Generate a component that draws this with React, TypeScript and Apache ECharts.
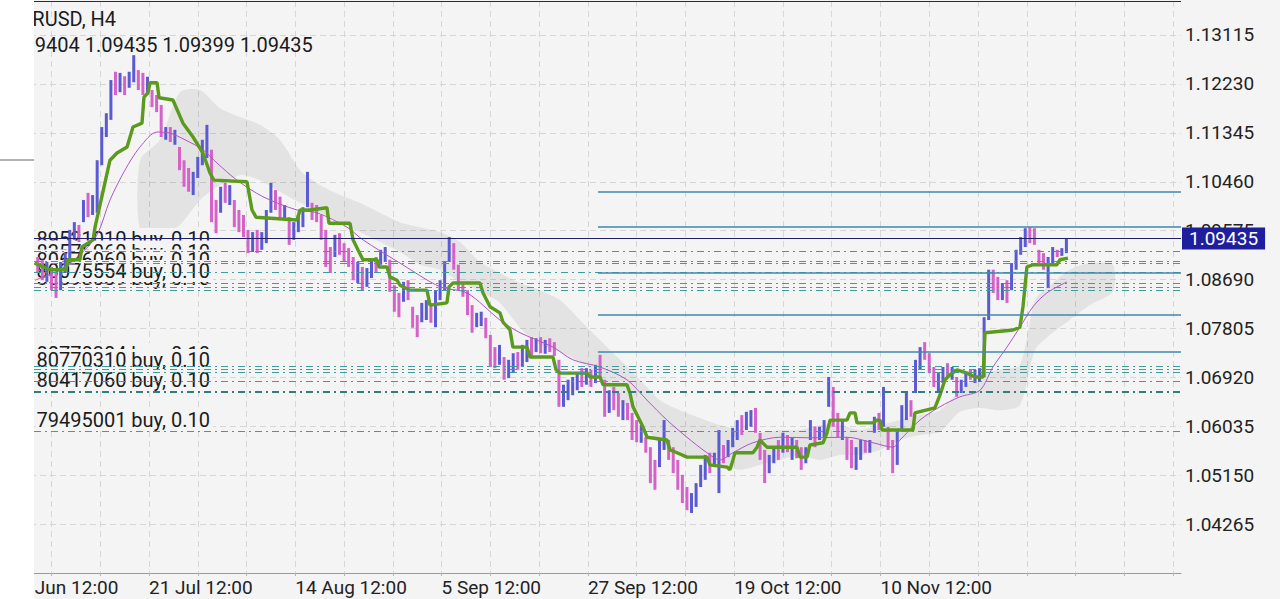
import React, { useEffect, useRef } from 'react';
import * as echarts from 'echarts';

const symbolTitle = 'EURUSD, H4';
const ohlcText = '1.09404 1.09435 1.09399 1.09435';
const currentPrice = 1.09435;

const yTickValues = [1.04265, 1.0515, 1.06035, 1.0692, 1.07805, 1.0869, 1.09575, 1.1046, 1.11345, 1.1223, 1.13115];
const xLabelValues = [4, 96, 192, 288, 384, 480, 576];
const xLabelTexts = ['29 Jun 12:00', '21 Jul 12:00', '14 Aug 12:00', '5 Sep 12:00', '27 Sep 12:00', '19 Oct 12:00', '10 Nov 12:00'];
const xGridValues = [0, 32, 64, 96, 128, 160, 192, 224, 256, 288, 320, 352, 384, 416, 448, 480, 512, 544, 576, 608, 640, 672, 704, 736, 768];

// candles sampled every 3 H4 bars, first at bar 23
const firstBar = 23;
const barStep = 3;
const highs = [
  1.0910, 1.0905, 1.0901, 1.0892, 1.0883, 1.0901, 1.0917, 1.0959, 1.0973, 1.0968,
  1.1013, 1.1026, 1.1022, 1.1085, 1.1145, 1.1170, 1.1230, 1.1245, 1.1243, 1.1237,
  1.1245, 1.1275, 1.1248, 1.1243, 1.1236, 1.1212, 1.1203, 1.1185, 1.1145, 1.1145,
  1.1140, 1.1109, 1.1085, 1.1071, 1.1064, 1.1091, 1.1122, 1.1149, 1.1104, 1.1013,
  1.1037, 1.1044, 1.1040, 1.1013, 1.0995, 1.0986, 1.0959, 1.0955, 1.0959, 1.0955,
  1.0995, 1.1044, 1.1031, 1.1019, 1.1004, 1.0982, 1.0973, 1.0986, 1.1000, 1.1064,
  1.1008, 1.1004, 1.0986, 1.0959, 1.0928, 1.0950, 1.0953, 1.0935, 1.0926, 1.0910,
  1.0901, 1.0892, 1.0890, 1.0908, 1.0910, 1.0923, 1.0928, 1.0905, 1.0859, 1.0845,
  1.0865, 1.0868, 1.0820, 1.0805, 1.0827, 1.0832, 1.0823, 1.0850, 1.0868, 1.0901,
  1.0946, 1.0935, 1.0896, 1.0863, 1.0850, 1.0823, 1.0809, 1.0811, 1.0800, 1.0769,
  1.0747, 1.0751, 1.0729, 1.0724, 1.0736, 1.0738, 1.0751, 1.0760, 1.0765, 1.0763,
  1.0765, 1.0760, 1.0763, 1.0756, 1.0724, 1.0679, 1.0688, 1.0693, 1.0702, 1.0709,
  1.0709, 1.0706, 1.0715, 1.0733, 1.0688, 1.0669, 1.0675, 1.0664, 1.0651, 1.0646,
  1.0628, 1.0615, 1.0606, 1.0584, 1.0566, 1.0543, 1.0579, 1.0615, 1.0579, 1.0566,
  1.0543, 1.0516, 1.0494, 1.0483, 1.0501, 1.0534, 1.0552, 1.0556, 1.0556, 1.0597,
  1.0570, 1.0579, 1.0601, 1.0615, 1.0624, 1.0630, 1.0633, 1.0637, 1.0592, 1.0561,
  1.0552, 1.0566, 1.0579, 1.0592, 1.0588, 1.0584, 1.0579, 1.0566, 1.0566, 1.0615,
  1.0603, 1.0603, 1.0615, 1.0693, 1.0675, 1.0628, 1.0615, 1.0584, 1.0579, 1.0566,
  1.0579, 1.0579, 1.0579, 1.0621, 1.0628, 1.0675, 1.0603, 1.0579, 1.0597, 1.0642,
  1.0666, 1.0651, 1.0724, 1.0747, 1.0756, 1.0736, 1.0711, 1.0700, 1.0711, 1.0718,
  1.0711, 1.0693, 1.0688, 1.0700, 1.0706, 1.0706, 1.0709, 1.0801, 1.0887, 1.0887,
  1.0874, 1.0863, 1.0868, 1.0899, 1.0923, 1.0946, 1.0962, 1.0964, 1.0962, 1.0923,
  1.0917, 1.0910, 1.0928, 1.0923, 1.0926, 1.0944,
];
const lows = [
  1.0881, 1.0868, 1.0865, 1.0850, 1.0836, 1.0850, 1.0881, 1.0896, 1.0941, 1.0937,
  1.0973, 1.0982, 1.0986, 1.0990, 1.1076, 1.1127, 1.1158, 1.1203, 1.1208, 1.1203,
  1.1216, 1.1226, 1.1212, 1.1203, 1.1207, 1.1181, 1.1172, 1.1127, 1.1122, 1.1118,
  1.1113, 1.1067, 1.1037, 1.1028, 1.1022, 1.1053, 1.1076, 1.1089, 1.0973, 1.0953,
  1.0990, 1.1008, 1.1004, 1.0964, 1.0955, 1.0946, 1.0917, 1.0919, 1.0917, 1.0923,
  1.0935, 1.0990, 1.0995, 1.0982, 1.0977, 1.0932, 1.0941, 1.0955, 1.0964, 1.1000,
  1.0977, 1.0973, 1.0941, 1.0892, 1.0881, 1.0910, 1.0914, 1.0901, 1.0892, 1.0868,
  1.0863, 1.0850, 1.0856, 1.0872, 1.0883, 1.0896, 1.0901, 1.0847, 1.0811, 1.0801,
  1.0829, 1.0832, 1.0782, 1.0765, 1.0792, 1.0796, 1.0791, 1.0783, 1.0832, 1.0850,
  1.0901, 1.0887, 1.0850, 1.0838, 1.0805, 1.0773, 1.0783, 1.0785, 1.0763, 1.0711,
  1.0709, 1.0715, 1.0688, 1.0691, 1.0702, 1.0706, 1.0711, 1.0720, 1.0727, 1.0738,
  1.0736, 1.0735, 1.0738, 1.0731, 1.0639, 1.0639, 1.0651, 1.0660, 1.0669, 1.0675,
  1.0679, 1.0675, 1.0682, 1.0691, 1.0621, 1.0628, 1.0633, 1.0621, 1.0615, 1.0615,
  1.0579, 1.0575, 1.0574, 1.0556, 1.0501, 1.0489, 1.0530, 1.0561, 1.0543, 1.0519,
  1.0489, 1.0465, 1.0452, 1.0447, 1.0458, 1.0494, 1.0507, 1.0519, 1.0530, 1.0483,
  1.0537, 1.0548, 1.0566, 1.0579, 1.0588, 1.0597, 1.0603, 1.0592, 1.0543, 1.0501,
  1.0519, 1.0537, 1.0543, 1.0556, 1.0557, 1.0543, 1.0546, 1.0525, 1.0537, 1.0579,
  1.0566, 1.0579, 1.0584, 1.0639, 1.0603, 1.0584, 1.0579, 1.0543, 1.0528, 1.0525,
  1.0543, 1.0556, 1.0556, 1.0592, 1.0597, 1.0603, 1.0561, 1.0519, 1.0534, 1.0597,
  1.0615, 1.0621, 1.0664, 1.0706, 1.0724, 1.0700, 1.0675, 1.0664, 1.0682, 1.0693,
  1.0688, 1.0657, 1.0664, 1.0675, 1.0688, 1.0682, 1.0684, 1.0693, 1.0796, 1.0845,
  1.0832, 1.0832, 1.0827, 1.0850, 1.0887, 1.0914, 1.0928, 1.0935, 1.0932, 1.0899,
  1.0887, 1.0854, 1.0899, 1.0910, 1.0912, 1.0917,
];
const dirs =
  'ddudduuuud' + 'uduuuuudud' + 'uuddudddud' + 'uddduuuudd' + 'ududdddudu' +
  'uudduduuuu' + 'dddddudddd' + 'uduuduuddd' + 'uddduuduuu' + 'uddddduudd' +
  'duduuduudu' + 'duddduuuud' + 'ududduddud' + 'dduddduudd' + 'ddduuuuduu' +
  'duuuduuddd' + 'uudududduu' + 'duuudduddu' + 'uduududduu' + 'uduuddduud' +
  'uduuduuuud' + 'duduuuuddd' + 'duuduu';

// stepped base line (thick green): [bar, price]
const baseLine = [
  [21, 1.0899], [31, 1.0887], [41.5, 1.0887], [42.8, 1.0905], [50.7, 1.0905], [52, 1.0928], [59.3, 1.0941], [60.6, 1.0964], [70.4, 1.1085], [75, 1.1098],
  [81.6, 1.1109], [85.5, 1.1145], [91.4, 1.1152], [92.7, 1.1199], [95.3, 1.1207], [96.7, 1.1225], [101.3, 1.1225], [102.6, 1.1198], [111.7, 1.1194], [118.3, 1.1152],
  [124.9, 1.1127], [131.4, 1.1098], [136, 1.1062], [138.6, 1.1049], [160.3, 1.1046], [163.6, 1.0995], [166.2, 1.0982], [193.1, 1.0977], [195.1, 1.0995], [201.6, 1.0995],
  [212.8, 1.0999], [214.1, 1.0971], [227.9, 1.0971], [229.9, 1.0941], [233.1, 1.0923], [236.4, 1.0905], [245.6, 1.0905], [246.9, 1.0892], [252.2, 1.0892], [254.1, 1.0874],
  [258.7, 1.0868], [260.7, 1.0859], [267.3, 1.0850], [278.4, 1.0850], [280.4, 1.0823], [291.5, 1.0827], [292.9, 1.0856], [295.5, 1.0863], [313.2, 1.0863], [315.2, 1.0845],
  [319.8, 1.0820], [326.3, 1.0809], [328.3, 1.0792], [332.9, 1.0778], [334.8, 1.0747], [344, 1.0747], [346, 1.0729], [361.1, 1.0729], [363.1, 1.0706], [365.7, 1.0700],
  [383.4, 1.0700], [385.4, 1.0693], [391.9, 1.0693], [393.9, 1.0679], [409.6, 1.0679], [411.6, 1.0664], [413.6, 1.0639], [420.1, 1.0603], [422.8, 1.0584], [435.9, 1.0579],
  [437.9, 1.0561], [442.5, 1.0556], [449, 1.0548], [462.1, 1.0548], [464.1, 1.0534], [475.3, 1.0530], [477.2, 1.0525], [479.2, 1.0543], [480.5, 1.0556], [492.3, 1.0556],
  [495, 1.0566], [496.9, 1.0579], [501.5, 1.0566], [521.2, 1.0566], [523.2, 1.0548], [527.8, 1.0548], [529.7, 1.0570], [538.3, 1.0574], [540.9, 1.0592], [542.9, 1.0615],
  [554, 1.0615], [556, 1.0628], [559.3, 1.0628], [560.6, 1.0610], [571.1, 1.0610], [573.7, 1.0615], [575.7, 1.0615], [577, 1.0597], [597.3, 1.0597], [598.6, 1.0628],
  [611.7, 1.0637], [615, 1.0660], [618.3, 1.0688], [621.6, 1.0697], [626.2, 1.0706], [632.8, 1.0700], [638, 1.0693], [643.3, 1.0693], [644.6, 1.0773], [663, 1.0778],
  [667.5, 1.0783], [669.5, 1.0820], [672.1, 1.0892], [676.1, 1.0896], [691.8, 1.0896], [693.8, 1.0905], [699, 1.0908],
];

// thin moving average: [bar, price]
const movingAverage = [
  [21.2, 1.0868], [37.6, 1.0887], [50.7, 1.0914], [61.9, 1.0950], [70.4, 1.1013], [80.2, 1.1067], [90.1, 1.1109], [101.3, 1.1136], [109.8, 1.1134], [119.6, 1.1122],
  [131.4, 1.1104], [140.6, 1.1080], [153.7, 1.1049], [170.8, 1.1019], [193.1, 1.0995], [206.2, 1.0990], [225.9, 1.0964], [236.4, 1.0941], [260.7, 1.0899], [287, 1.0856],
  [304.7, 1.0845], [326.3, 1.0796], [339.5, 1.0773], [361.1, 1.0747], [374.2, 1.0724], [391.9, 1.0711], [409.6, 1.0688], [422.8, 1.0651], [435.9, 1.0615], [449, 1.0584],
  [462.1, 1.0556], [470.7, 1.0543], [479.2, 1.0556], [492.3, 1.0574], [510, 1.0584], [531.7, 1.0583], [554, 1.0584], [571.1, 1.0574], [584.2, 1.0566], [588.8, 1.0579],
  [601.9, 1.0615], [615, 1.0639], [628.1, 1.0657], [641.3, 1.0669], [649.8, 1.0711], [659, 1.0747], [667.5, 1.0783], [676.1, 1.0820], [685.2, 1.0845], [698.4, 1.0865],
];

// cloud envelope: [bar, upper, lower]
const cloud = [
  [90.1, 1.1085, 1.0959], [103.2, 1.1122, 1.0950], [116.3, 1.1208, 1.0968], [129.5, 1.1212, 1.1013], [142.6, 1.1179, 1.1040],
  [155.7, 1.1163, 1.1058], [168.8, 1.1149, 1.1049], [181.9, 1.1122, 1.1028], [195.1, 1.1067, 1.1008], [208.2, 1.1040, 1.0990],
  [221.3, 1.1022, 1.0973], [234.4, 1.1008, 1.0955], [247.6, 1.0990, 1.0937], [260.7, 1.0973, 1.0919], [273.8, 1.0964, 1.0896],
  [286.9, 1.0955, 1.0887], [300.1, 1.0937, 1.0865], [313.2, 1.0901, 1.0847], [326.3, 1.0881, 1.0827], [339.4, 1.0863, 1.0782],
  [352.6, 1.0850, 1.0751], [365.7, 1.0832, 1.0738], [378.8, 1.0796, 1.0720], [391.9, 1.0760, 1.0693], [405.1, 1.0724, 1.0651],
  [418.2, 1.0688, 1.0615], [431.3, 1.0651, 1.0570], [444.4, 1.0633, 1.0552], [457.6, 1.0619, 1.0543], [470.7, 1.0606, 1.0534],
  [483.8, 1.0597, 1.0525], [496.9, 1.0592, 1.0534], [510, 1.0597, 1.0543], [523.2, 1.0597, 1.0552], [536.3, 1.0606, 1.0543],
  [549.4, 1.0606, 1.0552], [562.5, 1.0597, 1.0552], [575.7, 1.0606, 1.0561], [588.8, 1.0615, 1.0579], [601.9, 1.0624, 1.0588],
  [615, 1.0633, 1.0594], [628.2, 1.0669, 1.0630], [641.3, 1.0697, 1.0637], [654.4, 1.0706, 1.0633], [667.5, 1.0715, 1.0642],
  [677.4, 1.0832, 1.0742], [687.2, 1.0859, 1.0769], [700.3, 1.0887, 1.0796], [713.4, 1.0899, 1.0823], [728.5, 1.0896, 1.0847],
];

const levelStartBar = 390.6;
const levelPrices = [1.1028, 1.0964, 1.0882, 1.0805, 1.0738];
const orderLinePrices = [1.0921, 1.0902, 1.0898, 1.0882, 1.0863, 1.0856, 1.0850, 1.0713, 1.0707, 1.0702, 1.0685, 1.0666, 1.0594];
const orderLabelTexts = [
  '89521010 buy, 0.10', '83576060 buy, 0.10', '80676060 buy, 0.10', '80893039 buy, 0.10', '80075554 buy, 0.10',
  '80770304 buy, 0.10', '80770310 buy, 0.10', '80417060 buy, 0.10', '79495001 buy, 0.10',
];
const orderLabelPrices = [1.0921, 1.0898, 1.0882, 1.0850, 1.0863, 1.0713, 1.0702, 1.0666, 1.0594];

const X_MIN = -1.77;
const X_MAX = 773.2;
const Y_MIN = 1.033845;
const Y_MAX = 1.137299;
const BG = '#f4f4f4';
const UP = '#5a5ad2';
const DOWN = '#d462c8';
const FONT = 'Roboto';

export default function App() {
  const ref = useRef<HTMLDivElement>(null);
  useEffect(() => {
    if (!ref.current) return;
    const chart = echarts.init(ref.current, undefined, { renderer: 'svg' });
    const candleData = highs.map((h, i) => [firstBar + i * barStep, lows[i], h, dirs[i] === 'u' ? 1 : 0]);
    const labelX = 21.5;

    const option: any = {
      animation: false,
      backgroundColor: BG,
      grid: { left: 0, right: 99, top: 1, bottom: 26, containLabel: false },
      xAxis: {
        type: 'value', min: X_MIN, max: X_MAX, position: 'bottom',
        axisLine: { show: true, lineStyle: { color: '#9a9a9a', width: 1 } },
        axisTick: { show: true, customValues: xGridValues, length: 3, lineStyle: { color: '#b5b5b5' } },
        axisLabel: {
          customValues: xLabelValues,
          formatter: (v: number) => { const i = xLabelValues.indexOf(Math.round(v)); return i >= 0 ? xLabelTexts[i] : ''; },
          align: 'left', color: '#222', fontSize: 19, fontFamily: FONT, margin: 5,
        },
        splitLine: { show: true, lineStyle: { color: '#d6d6d6', type: [6, 4], width: 1 } },
      },
      yAxis: {
        type: 'value', position: 'right', min: Y_MIN, max: Y_MAX,
        axisLine: { show: true, lineStyle: { color: '#9a9a9a', width: 1 } },
        axisTick: { show: true, customValues: yTickValues, length: 4, lineStyle: { color: '#444' } },
        axisLabel: {
          customValues: yTickValues,
          formatter: (v: number) => v.toFixed(5),
          color: '#222', fontSize: 19, fontFamily: FONT, margin: 4,
        },
        splitLine: { show: true, lineStyle: { color: '#d6d6d6', type: [6, 4], width: 1 } },
      },
      series: [
        {
          type: 'custom', name: 'cloud', z: 0, silent: true,
          data: [[cloud[0][0], cloud[0][1]]],
          renderItem: (params: any, api: any) => {
            const pts: number[][] = [];
            cloud.forEach((c) => pts.push(api.coord([c[0], c[1]])));
            for (let i = cloud.length - 1; i >= 0; i--) pts.push(api.coord([cloud[i][0], cloud[i][2]]));
            return { type: 'polygon', shape: { points: pts, smooth: 0.25 }, style: { fill: 'rgba(0,0,0,0.065)' } };
          },
        },
        {
          type: 'line', name: 'orders', z: 1, data: [], silent: true,
          markLine: {
            silent: true, symbol: ['none', 'none'], label: { show: false }, precision: 6,
            data: orderLinePrices.map((p) => ({
              yAxis: p,
              lineStyle: { color: p === 1.0666 ? '#2d7f80' : '#3e9c9c', width: p === 1.0666 ? 1.8 : 1, type: [7, 4, 2, 4] },
            })),
          },
        },
        {
          type: 'line', name: 'levels', z: 1, data: [], silent: true,
          markLine: {
            silent: true, symbol: ['none', 'none'], label: { show: false }, precision: 6,
            lineStyle: { color: '#3f88ae', width: 1.6, type: 'solid' },
            data: levelPrices.map((p) => [{ coord: [levelStartBar, p] }, { coord: [X_MAX, p] }]),
          },
        },
        {
          type: 'custom', name: 'orderLabels', z: 2, silent: true,
          data: orderLabelPrices.map((p) => [labelX, p]),
          renderItem: (params: any, api: any) => {
            const i = params.dataIndex;
            const pt = api.coord([api.value(0), api.value(1)]);
            return {
              type: 'text', x: pt[0], y: pt[1] - 1, z2: i,
              style: {
                text: orderLabelTexts[i], fill: '#1b1b1b', fontSize: 20, fontFamily: FONT,
                backgroundColor: BG, padding: [0, 3, 0, 1], lineHeight: 22,
                verticalAlign: 'bottom', align: 'left',
              },
            };
          },
        },
        {
          type: 'custom', name: 'bars', z: 3, silent: true,
          data: candleData,
          encode: { x: 0, y: [1, 2] },
          renderItem: (params: any, api: any) => {
            const x = api.value(0);
            const top = api.coord([x, api.value(2)]);
            const bot = api.coord([x, api.value(1)]);
            const up = api.value(3) === 1;
            return {
              type: 'rect',
              shape: { x: top[0] - 1.5, y: top[1], width: 3, height: Math.max(1, bot[1] - top[1]) },
              style: { fill: up ? UP : DOWN },
            };
          },
        },
        {
          type: 'line', name: 'ma', z: 4, data: movingAverage, showSymbol: false, smooth: 0.3,
          lineStyle: { color: '#b054c4', width: 1 }, silent: true,
        },
        {
          type: 'line', name: 'base', z: 4, data: baseLine, showSymbol: false,
          lineStyle: { color: '#5b9a1c', width: 3.4 }, silent: true,
        },
        {
          type: 'line', name: 'price', z: 6, data: [], silent: true,
          markLine: {
            silent: true, symbol: ['none', 'none'], precision: 6,
            data: [{
              yAxis: currentPrice,
              lineStyle: { color: '#1e1e6a', width: 1.2, type: 'solid' },
              label: {
                show: true, position: 'end', distance: 1, formatter: currentPrice.toFixed(5),
                backgroundColor: '#1f1f9e', color: '#ffffff', fontSize: 19, fontFamily: FONT,
                padding: [2, 7, 1, 7],
              },
            }],
          },
        },
      ],
      graphic: [
        { type: 'line', z: 50, shape: { x1: 34, y1: 1.5, x2: 1181, y2: 1.5 }, style: { stroke: '#2a2a2a', lineWidth: 1.2 } },
        { type: 'text', z: 50, x: 8, y: 9, style: { text: symbolTitle, fill: '#1b1b1b', fontSize: 20, fontFamily: FONT } },
        { type: 'text', z: 50, x: 7, y: 35, style: { text: ohlcText, fill: '#1b1b1b', fontSize: 20, fontFamily: FONT } },
        { type: 'rect', z: 100, shape: { x: 0, y: 0, width: 34, height: 599 }, style: { fill: '#ffffff' } },
        { type: 'line', z: 101, shape: { x1: 0, y1: 160, x2: 34, y2: 160 }, style: { stroke: '#666', lineWidth: 1.2 } },
      ],
    };
    chart.setOption(option);
    return () => chart.dispose();
  }, []);
  return (
    <div
      ref={ref}
      style={{ position: 'fixed', left: 0, top: 0, width: 1280, height: 599, background: BG }}
    />
  );
}
